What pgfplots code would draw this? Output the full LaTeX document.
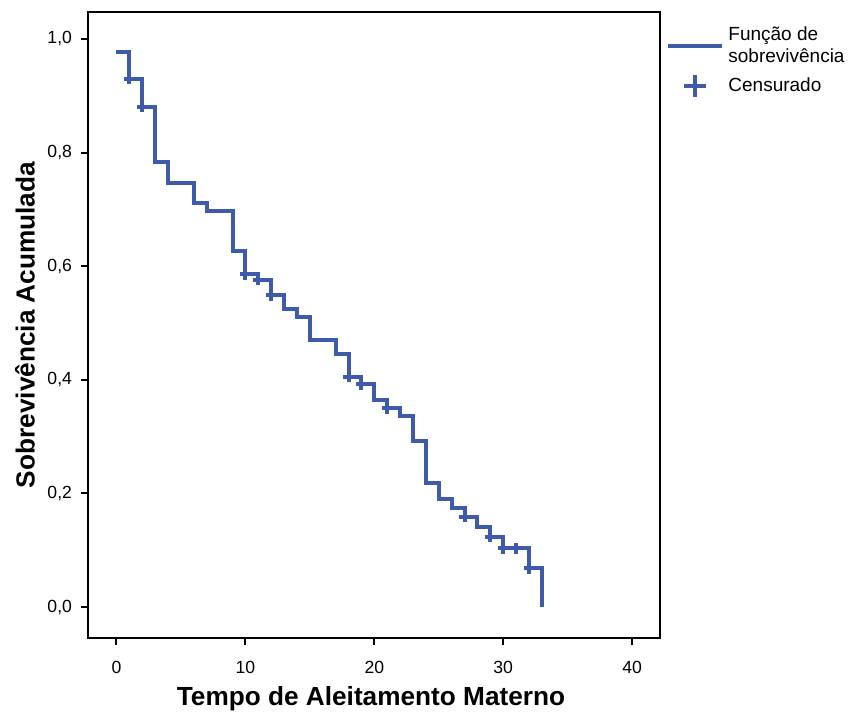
\documentclass[border=0pt]{standalone}
\usepackage{fontspec}
\setmainfont{Liberation Sans}
\usepackage{pgfplots}
\pgfplotsset{compat=1.18}
\definecolor{km}{RGB}{62,90,170}
\begin{document}
\begin{tikzpicture}
\begin{axis}[
 scale only axis, width=286pt, height=313pt,
 xmin=-2.21, xmax=42.16, ymin=-0.0546, ymax=1.0475,
 xtick={0,10,20,30,40}, ytick={0,0.2,0.4,0.6,0.8,1.0},
 tick align=outside, tick pos=left,
 major tick length=3.5pt,
 axis line style={line width=1pt},
 every tick/.style={black, line width=1pt},
 yticklabel style={xshift=-1pt, /pgf/number format/.cd, fixed, fixed zerofill, precision=1, use comma},
 xticklabel style={yshift=-4.5pt},
 /pgf/number format/assume math mode=true,
 ticklabel style={font=\fontsize{8.8}{10}\selectfont},
 xlabel={Tempo de Aleitamento Materno}, ylabel={Sobrevivência Acumulada},
 every axis x label/.style={at={(rel axis cs:0.5,0)}, yshift=-30.5pt, xshift=-1.5pt, anchor=center},
 every axis y label/.style={at={(rel axis cs:0,0.5)}, xshift=-31.5pt, rotate=90, anchor=center},
 label style={font=\bfseries\fontsize{13.1}{15}\selectfont},
 legend cell align=left,
 legend style={at={(1,1)}, anchor=north west, xshift=0pt, yshift=-3pt, draw=none, fill=none,
   font=\fontsize{9.5}{11}\selectfont, align=left, row sep=2pt},
]
\coordinate (SW) at (rel axis cs:0,0);
\coordinate (NE) at (rel axis cs:1,1);
\addplot[const plot, km, line width=2pt,
  legend image code/.code={\draw[km, line width=2pt] (0pt,0pt) -- (27pt,0pt);}]
 coordinates {
 (0,0.977) (1,0.930) (2,0.881) (3,0.783) (4,0.746) (6,0.711) (7,0.698)
 (9,0.626) (10,0.586) (11,0.576) (12,0.549) (13,0.524) (14,0.511) (15,0.470)
 (17,0.445) (18,0.405) (19,0.392) (20,0.364) (21,0.350) (22,0.336) (23,0.292)
 (24,0.219) (25,0.190) (26,0.174) (27,0.159) (28,0.141) (29,0.124) (30,0.103)
 (32,0.068) (33,0.0)
 };
\addlegendentry{Função de\\sobrevivência}
\addplot[only marks, km, mark=+, mark size=2.7pt, mark options={line width=2pt},
  legend image code/.code={\draw[km, line width=2pt] (8pt,0pt) -- (19pt,0pt) (13.5pt,-5.5pt) -- (13.5pt,5.5pt);}]
 coordinates {
 (1,0.930) (2,0.881) (10,0.586) (11,0.576) (12,0.549) (18,0.405) (19,0.392)
 (21,0.350) (27,0.159) (29,0.124) (30,0.103) (31,0.103) (32,0.068)
 };
\addlegendentry{Censurado}
\end{axis}
\pgfresetboundingbox
\path[use as bounding box] ([shift={(-44pt,-39.5pt)}]SW) rectangle ([shift={(94.5pt,6pt)}]NE);
\end{tikzpicture}
\end{document}
